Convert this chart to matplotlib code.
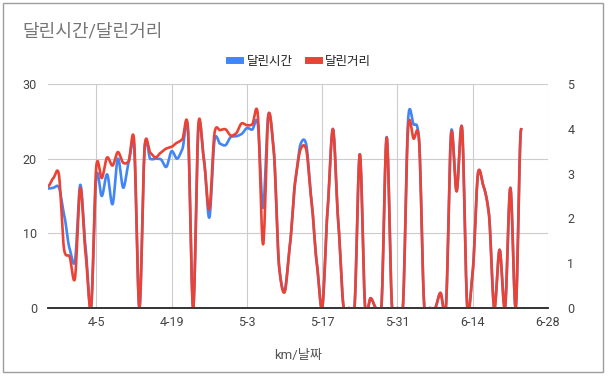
import matplotlib.pyplot as plt
import matplotlib.patches as patches
import numpy as np
import pandas as pd

plt.rcParams['font.family'] = ['Roboto', 'Noto Sans CJK KR', 'DejaVu Sans']

# daily values from 3-27 to 6-23
time_min = [16.0, 16.1, 16.2, 12.5, 8.0, 6.2, 16.5, 8.0, 0, 17.7,
            15.0, 17.9, 13.9, 20.0, 16.1, 19.5, 21.7, 0, 21.7, 20.0,
            20.0, 19.9, 18.9, 21.0, 20.0, 21.3, 24.2, 0, 24.4, 20.0,
            12.1, 22.6, 22.0, 21.8, 22.9, 23.0, 23.3, 24.1, 23.9, 24.8,
            13.4, 26.0, 21.0, 5.5, 2.3, 8.5, 17.0, 22.0, 22.0, 14.5,
            6.0, 0, 13.0, 24.0, 11.4, 0, 0, 0, 20.6, 0,
            1.3, 0, 0, 22.9, 0, 0, 0, 25.5, 24.6, 22.6,
            0, 0, 0, 2.0, 0, 23.7, 15.7, 24.2, 0, 5.0,
            18.1, 16.3, 12.8, 0, 7.8, 0, 16.1, 0, 23.9]
dist_km = [2.72, 2.9, 3.0, 1.3, 1.15, 0.65, 2.68, 1.2, 0, 3.18,
           2.9, 3.36, 3.18, 3.48, 3.24, 3.28, 3.77, 0, 3.63, 3.47,
           3.36, 3.47, 3.56, 3.6, 3.69, 3.77, 4.06, 0, 4.14, 3.3,
           2.2, 3.93, 3.97, 3.99, 3.85, 3.9, 4.12, 4.08, 4.1, 4.35,
           1.42, 4.3, 3.5, 0.9, 0.35, 1.4, 2.85, 3.55, 3.55, 2.4,
           1.0, 0, 2.2, 3.99, 1.9, 0, 0, 0, 3.43, 0,
           0.22, 0, 0, 3.8, 0, 0, 0, 4.05, 3.78, 3.78,
           0, 0, 0, 0.34, 0, 3.91, 2.6, 4.03, 0, 0.8,
           3.02, 2.72, 2.1, 0, 1.3, 0, 2.68, 0, 3.99]
dates = pd.date_range('2020-03-27', periods=len(time_min))
tick_dates = pd.to_datetime(['2020-04-05', '2020-04-19', '2020-05-03', '2020-05-17',
                             '2020-05-31', '2020-06-14', '2020-06-28'])
tick_labels = ['4-5', '4-19', '5-3', '5-17', '5-31', '6-14', '6-28']


def smooth(y, n=16, c=0.35):
    # cardinal spline through the daily points
    y = np.asarray(y, dtype=float)
    m = np.zeros_like(y)
    m[1:-1] = c * (y[2:] - y[:-2])
    t = np.linspace(0, 1, n, endpoint=False)
    h00 = 2 * t ** 3 - 3 * t ** 2 + 1
    h10 = t ** 3 - 2 * t ** 2 + t
    h01 = -2 * t ** 3 + 3 * t ** 2
    h11 = t ** 3 - t ** 2
    xs, ys = [], []
    for i in range(len(y) - 1):
        xs.append(i + t)
        ys.append(h00 * y[i] + h10 * m[i] + h01 * y[i + 1] + h11 * m[i + 1])
    xs.append([len(y) - 1])
    ys.append([y[-1]])
    return np.concatenate(xs), np.concatenate(ys)


x0 = dates[0]
xs, ys1 = smooth(time_min)
_, ys2 = smooth(dist_km)
xd = x0 + pd.to_timedelta(xs, unit='D')

fig = plt.figure(figsize=(6.09, 3.77), dpi=100)
fig.patches.append(patches.Rectangle((3 / 609, 5 / 377), 600 / 609, 369 / 377,
                                     transform=fig.transFigure, fill=False,
                                     edgecolor='#9e9e9e', lw=1))

ax = fig.add_axes([48 / 609, 1 - 308 / 377, 500 / 609, 224 / 377])
ax2 = ax.twinx()

ax.plot(xd, ys1, color='#4285F4', lw=1.9, label='달린시간')
ax2.plot(xd, ys2, color='#EA4335', lw=1.9, label='달린거리')

ax.set_ylim(0, 30)
ax2.set_ylim(0, 5)
ax.set_yticks([0, 10, 20, 30])
ax2.set_yticks([0, 1, 2, 3, 4, 5])
ax.set_xlim(x0, tick_dates[-1])
ax.set_xticks(tick_dates)
ax.set_xticklabels(tick_labels)

ax.grid(True, color='#cccccc', lw=0.8)
ax.set_axisbelow(True)
for a in (ax, ax2):
    for s in ['left', 'right', 'top']:
        a.spines[s].set_visible(False)
    a.spines['bottom'].set_color('#333333')
    a.spines['bottom'].set_linewidth(1.2)
    a.tick_params(length=0, labelsize=9, labelcolor='#444444')
ax.tick_params(axis='y', pad=8)
ax2.tick_params(axis='y', pad=14)
ax.tick_params(axis='x', pad=6)
ax2.patch.set_visible(False)

ax.set_xlabel('km/날짜', fontsize=9.5, color='#555555', labelpad=14)

fig.text(22 / 609, 1 - 32 / 377, '달린시간/달린거리', fontsize=13, color='#757575',
         va='center', ha='left')

h1, l1 = ax.get_legend_handles_labels()
h2, l2 = ax2.get_legend_handles_labels()
fig.legend(h1 + h2, l1 + l2, loc='center', bbox_to_anchor=(300 / 609, 1 - 61 / 377),
           ncol=2, frameon=False, fontsize=9, handlelength=0.9, handletextpad=0.5,
           columnspacing=1.2, labelcolor='#222222')
for line in fig.legends[0].get_lines():
    line.set_linewidth(5)

fig.savefig('out.png', dpi=100)
